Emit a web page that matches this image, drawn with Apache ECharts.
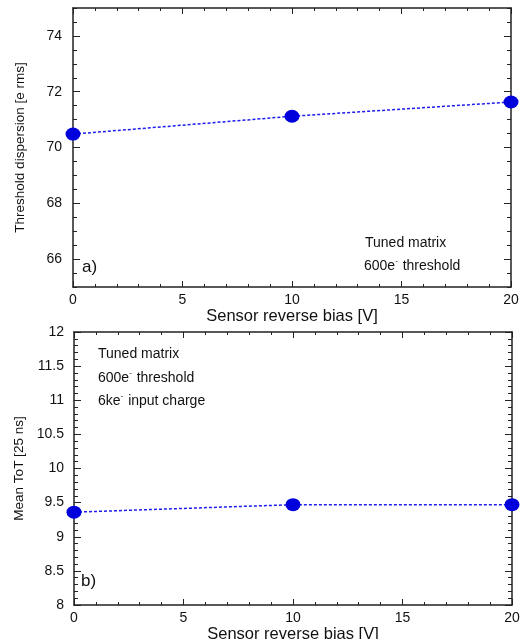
<!DOCTYPE html>
<html>
<head>
<meta charset="utf-8">
<script src="https://cdn.jsdelivr.net/npm/echarts@6/dist/echarts.min.js"></script>
<style>
  html, body { margin: 0; padding: 0; background: #fff; }
  #chart { width: 528px; height: 639px; }
</style>
</head>
<body>
<div id="chart"></div>
<script>
// sensor bias points and the two measured quantities
const biasV = [0, 10, 20]
const thrDispersion = [70.48, 71.12, 71.63]
const meanToT = [9.36, 9.47, 9.47]
const thrLabels = [66, 68, 70, 72, 74]

const FONT = 'Liberation Sans'
const AXIS_COLOR = '#222'
const LINE_COLOR = '#1c1cf0'
const DOT_COLOR = '#0000dc'

const chart = echarts.init(document.getElementById('chart'))

const toPairs = (xs, ys) => xs.map((x, i) => [x, ys[i]])

// bottom + top x axis for a grid (box frame with inward ticks)
function xAxes (gridIndex, nameGap) {
  const base = {
    type: 'value',
    gridIndex: gridIndex,
    min: 0,
    max: 20,
    interval: 5,
    axisLine: { show: true, onZero: false, lineStyle: { color: AXIS_COLOR, width: 1.5 } },
    axisTick: { show: true, inside: true, length: 6, lineStyle: { color: AXIS_COLOR } },
    minorTick: { show: true, splitNumber: 5, length: 3, lineStyle: { color: AXIS_COLOR } },
    splitLine: { show: false }
  }
  return [
    Object.assign({}, base, {
      position: 'bottom',
      name: 'Sensor reverse bias [V]',
      nameLocation: 'middle',
      nameGap: nameGap,
      nameTextStyle: { fontFamily: FONT, fontSize: 16.5, color: '#111' },
      axisLabel: { fontFamily: FONT, fontSize: 14, color: '#111', margin: 6 }
    }),
    Object.assign({}, base, { position: 'top', axisLabel: { show: false } })
  ]
}

const yLine = { show: true, onZero: false, lineStyle: { color: AXIS_COLOR, width: 1.5 } }
const noLine = { show: false }

// long ticks at the labelled values of panel a), on a helper grid spanning 66..74
function majorTicks (position) {
  return {
    type: 'value', gridIndex: 2, position: position, min: 66, max: 74, interval: 2,
    axisLine: noLine,
    axisTick: { show: true, inside: true, length: 7, lineStyle: { color: AXIS_COLOR } },
    axisLabel: { show: false }, splitLine: { show: false }
  }
}

chart.setOption({
  animation: false,
  grid: [
    { left: 73, top: 8, width: 438, height: 279, outerBoundsMode: 'none' },
    { left: 74, top: 332, width: 438, height: 273, outerBoundsMode: 'none' },
    { left: 73, top: 8 + 279 * 0.1, width: 438, height: 279 * 0.8, outerBoundsMode: 'none' }
  ],
  xAxis: [].concat(xAxes(0, 19), xAxes(1, 19), [{
    type: 'value', gridIndex: 2, min: 0, max: 20, show: false
  }]),
  yAxis: [
    // a) left, labels + short ticks every 0.5
    {
      type: 'value', gridIndex: 0, position: 'left', min: 65, max: 75, interval: 0.5,
      name: 'Threshold dispersion [e rms]',
      nameLocation: 'middle', nameGap: 46,
      nameTextStyle: { fontFamily: FONT, fontSize: 13.5, color: '#111' },
      axisLine: yLine,
      axisTick: { show: true, inside: true, length: 4, lineStyle: { color: AXIS_COLOR } },
      axisLabel: {
        fontFamily: FONT, fontSize: 14, color: '#111', margin: 11,
        formatter: v => (thrLabels.indexOf(v) >= 0 ? String(v) : '')
      },
      splitLine: { show: false }
    },
    // a) right frame
    {
      type: 'value', gridIndex: 0, position: 'right', min: 65, max: 75, interval: 0.5,
      axisLine: yLine,
      axisTick: { show: true, inside: true, length: 4, lineStyle: { color: AXIS_COLOR } },
      axisLabel: { show: false }, splitLine: { show: false }
    },
    majorTicks('left'),
    majorTicks('right'),
    // b) left
    {
      type: 'value', gridIndex: 1, position: 'left', min: 8, max: 12, interval: 0.5,
      name: 'Mean ToT [25 ns]',
      nameLocation: 'middle', nameGap: 45,
      nameTextStyle: { fontFamily: FONT, fontSize: 13.5, color: '#111' },
      axisLine: yLine,
      axisTick: { show: true, inside: true, length: 7, lineStyle: { color: AXIS_COLOR } },
      minorTick: { show: true, splitNumber: 5, length: 4, lineStyle: { color: AXIS_COLOR } },
      axisLabel: { fontFamily: FONT, fontSize: 14, color: '#111', margin: 10 },
      splitLine: { show: false }
    },
    // b) right frame
    {
      type: 'value', gridIndex: 1, position: 'right', min: 8, max: 12, interval: 0.5,
      axisLine: yLine,
      axisTick: { show: true, inside: true, length: 7, lineStyle: { color: AXIS_COLOR } },
      minorTick: { show: true, splitNumber: 5, length: 4, lineStyle: { color: AXIS_COLOR } },
      axisLabel: { show: false }, splitLine: { show: false }
    }
  ],
  series: [
    {
      type: 'line', xAxisIndex: 0, yAxisIndex: 0,
      data: toPairs(biasV, thrDispersion),
      symbol: 'circle', symbolSize: [15, 13],
      itemStyle: { color: DOT_COLOR },
      lineStyle: { color: LINE_COLOR, width: 1.5, type: [3, 2] },
      clip: false, z: 5
    },
    {
      type: 'line', xAxisIndex: 2, yAxisIndex: 4,
      data: toPairs(biasV, meanToT),
      symbol: 'circle', symbolSize: [15, 13],
      itemStyle: { color: DOT_COLOR },
      lineStyle: { color: LINE_COLOR, width: 1.5, type: [3, 2] },
      clip: false, z: 5
    }
  ],
  graphic: (function () {
    const rich = {
      n: { fontFamily: FONT, fontSize: 14, fill: '#111' },
      sup: { fontFamily: FONT, fontSize: 8, fill: '#111', padding: [0, 1, 10, 0] }
    }
    const note = (x, y, text) => ({
      type: 'text', left: x, top: y,
      style: { text: text, rich: rich, fontFamily: FONT, fontSize: 14, fill: '#111' }
    })
    const tag = (x, y, text) => ({
      type: 'text', left: x, top: y,
      style: { text: text, fontFamily: FONT, fontSize: 17, fill: '#111' }
    })
    return [
      note(365, 236, '{n|Tuned matrix}'),
      note(364, 257, '{n|600e}{sup|-}{n| threshold}'),
      tag(82, 259, 'a)'),
      note(98, 347, '{n|Tuned matrix}'),
      note(98, 369, '{n|600e}{sup|-}{n| threshold}'),
      note(98, 392, '{n|6ke}{sup|-}{n| input charge}'),
      tag(81, 573, 'b)')
    ]
  })()
})
</script>
</body>
</html>
